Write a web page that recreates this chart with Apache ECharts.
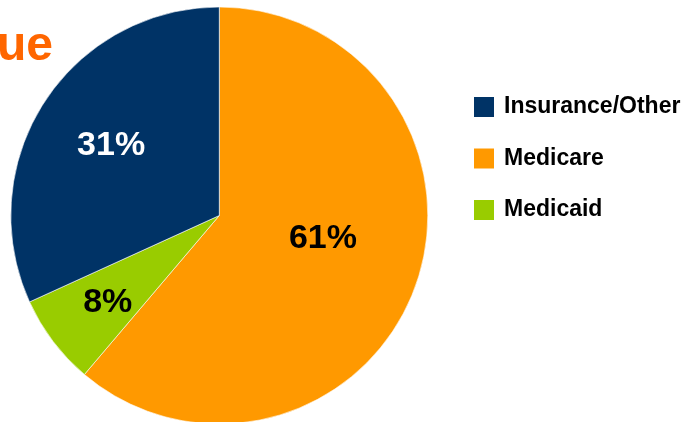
<!DOCTYPE html>
<html><head><meta charset="utf-8">
<script src="https://cdn.jsdelivr.net/npm/echarts@6/dist/echarts.min.js"></script>
<style>html,body{margin:0;padding:0;background:#fff}#c{width:686px;height:422px}</style>
</head><body><div id="c"></div>
<script>
// Slice order is clockwise from 12 o'clock
const categories = ["Medicare", "Medicaid", "Insurance/Other"];
const values = [61.2, 7.0, 31.8];
const labelTexts = ["61%", "8%", "31%"];
const legendOrder = ["Insurance/Other", "Medicare", "Medicaid"];
const colors = ["#FF9900", "#99CC00", "#003366"];
const labelColors = ["#000000", "#000000", "#FFFFFF"];
const labelOffsets = [[3, -14], [-26, 22], [-18, -12]];

const chart = echarts.init(document.getElementById('c'), null, {renderer: 'canvas'});
chart.setOption({
  animation: false,
  backgroundColor: '#ffffff',
  graphic: [{
    type: 'text', left: -3, top: 23,
    style: {text: 'ue', fill: '#FF6600', font: 'bold 48px "Liberation Sans", Arial, sans-serif'}
  }],
  legend: {
    data: legendOrder,
    orient: 'vertical',
    left: 472, top: 92.5, padding: 0,
    icon: 'rect', itemWidth: 22, itemHeight: 22, itemGap: 22.5,
    textStyle: {fontFamily: '"Liberation Sans", Arial, sans-serif', fontWeight: 'bold', fontSize: 23, color: '#000', padding: [0, 0, 7, 4], lineHeight: 22, overflow: 'none'}
  },
  series: [{
    type: 'pie',
    center: [219.3, 215.5],
    radius: 208.5,
    startAngle: 90,
    clockwise: true,
    avoidLabelOverlap: false,
    itemStyle: {borderColor: '#ffffff', borderWidth: 0.6},
    labelLine: {show: false},
    data: categories.map((c, i) => ({
      name: c, value: values[i],
      itemStyle: {color: colors[i]},
      label: {
        show: true, position: 'inside', formatter: labelTexts[i],
        color: labelColors[i], fontSize: 34, fontWeight: 'bold',
        fontFamily: '"Liberation Sans", Arial, sans-serif',
        offset: labelOffsets[i]
      }
    }))
  }]
});
</script></body></html>
